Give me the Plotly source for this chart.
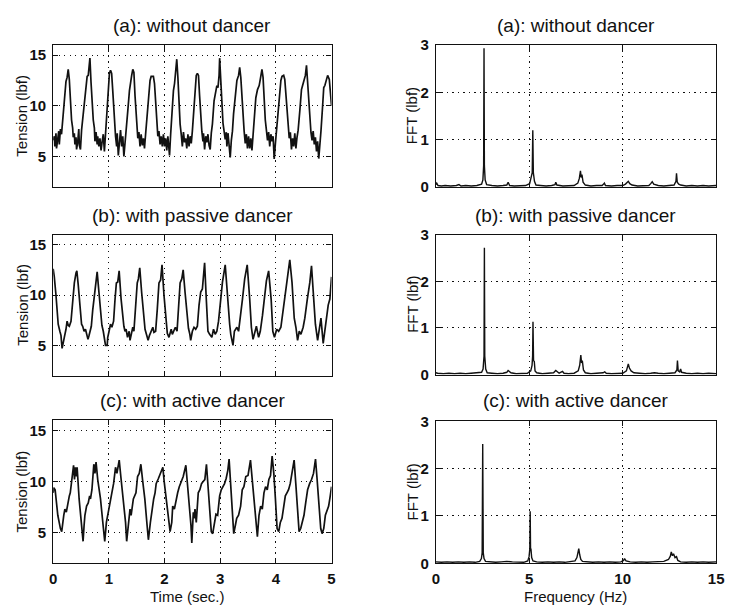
import plotly.graph_objects as go

W, H = 732, 616

panel_titles = ["(a): without dancer", "(b): with passive dancer", "(c): with active dancer"]
time_ticks = [0, 1, 2, 3, 4, 5]
tension_ticks = [5, 10, 15]
freq_ticks = [0, 5, 10, 15]
fft_ticks = [0, 1, 2, 3]

# Tension history (time in s, tension in lbf)
tension_a = [
    (0.00, 6.6), (0.02, 7.0), (0.03, 6.0), (0.05, 7.3), (0.06, 5.8), (0.08, 6.8), (0.10, 7.5), (0.11, 6.2),
    (0.13, 7.7), (0.15, 7.2), (0.17, 8.5), (0.20, 10.5), (0.23, 12.4), (0.25, 12.8), (0.27, 13.6), (0.29, 12.6),
    (0.31, 10.2), (0.33, 8.6), (0.35, 7.8), (0.36, 6.9), (0.38, 7.3), (0.39, 6.2), (0.41, 6.9), (0.42, 5.7),
    (0.44, 6.4), (0.46, 7.7), (0.47, 6.1), (0.49, 5.7), (0.51, 7.6), (0.53, 8.8), (0.56, 10.6), (0.59, 12.2),
    (0.61, 12.9), (0.63, 13.0), (0.66, 14.7), (0.68, 12.3), (0.70, 10.2), (0.72, 8.6), (0.74, 7.8), (0.75, 6.5),
    (0.77, 7.4), (0.79, 6.2), (0.80, 7.0), (0.82, 6.0), (0.84, 6.8), (0.86, 5.6), (0.88, 6.5), (0.90, 7.2),
    (0.92, 5.5), (0.94, 7.5), (0.97, 10.0), (0.99, 12.0), (1.01, 13.2), (1.03, 13.5), (1.05, 13.2), (1.07, 11.5),
    (1.09, 9.5), (1.11, 8.0), (1.12, 7.0), (1.14, 6.0), (1.15, 7.3), (1.17, 5.1), (1.19, 6.5), (1.21, 7.6),
    (1.23, 6.0), (1.25, 7.0), (1.27, 5.0), (1.29, 6.6), (1.31, 7.8), (1.34, 9.5), (1.37, 11.5), (1.39, 12.6),
    (1.41, 13.0), (1.43, 13.6), (1.45, 13.3), (1.47, 11.0), (1.49, 9.0), (1.51, 8.0), (1.52, 6.8), (1.54, 7.4),
    (1.56, 6.0), (1.58, 7.2), (1.60, 6.1), (1.62, 6.8), (1.64, 5.8), (1.66, 7.2), (1.68, 8.5), (1.71, 10.8),
    (1.74, 12.5), (1.76, 12.9), (1.80, 12.9), (1.82, 12.2), (1.84, 10.0), (1.86, 8.3), (1.88, 7.0), (1.90, 7.5),
    (1.92, 6.2), (1.94, 7.0), (1.96, 6.0), (1.98, 7.2), (2.00, 6.0), (2.02, 6.8), (2.04, 5.6), (2.06, 7.0),
    (2.09, 5.1), (2.11, 7.2), (2.13, 9.0), (2.16, 11.5), (2.18, 12.2), (2.20, 13.2), (2.22, 14.6), (2.24, 12.8),
    (2.26, 10.0), (2.28, 8.2), (2.30, 7.2), (2.32, 6.0), (2.34, 7.4), (2.36, 6.4), (2.38, 6.8), (2.40, 5.8),
    (2.42, 7.2), (2.44, 6.0), (2.46, 7.0), (2.48, 6.3), (2.50, 7.5), (2.53, 10.0), (2.55, 12.3), (2.57, 13.0),
    (2.59, 13.2), (2.61, 13.0), (2.63, 11.0), (2.65, 9.0), (2.67, 7.5), (2.69, 6.5), (2.70, 7.3), (2.72, 5.7),
    (2.74, 7.0), (2.76, 6.4), (2.78, 7.2), (2.80, 6.1), (2.82, 5.7), (2.84, 7.3), (2.86, 8.2), (2.89, 10.5),
    (2.92, 11.5), (2.94, 12.0), (2.96, 11.8), (2.98, 13.0), (2.99, 14.7), (3.01, 12.0), (3.03, 9.8), (3.05, 8.3),
    (3.07, 7.5), (3.09, 6.7), (3.11, 7.4), (3.12, 6.0), (3.14, 7.3), (3.16, 6.4), (3.18, 4.9), (3.20, 6.6),
    (3.22, 7.5), (3.24, 9.2), (3.27, 11.0), (3.30, 12.5), (3.33, 13.0), (3.35, 13.8), (3.37, 12.8), (3.39, 10.6),
    (3.41, 8.7), (3.43, 7.5), (3.45, 6.3), (3.47, 7.2), (3.49, 5.8), (3.51, 7.0), (3.53, 5.8), (3.55, 6.8),
    (3.57, 5.6), (3.59, 7.0), (3.61, 8.6), (3.64, 10.8), (3.67, 11.6), (3.70, 12.0), (3.72, 12.6), (3.75, 13.6),
    (3.77, 12.8), (3.79, 10.5), (3.81, 8.6), (3.83, 7.6), (3.85, 6.6), (3.87, 7.4), (3.89, 6.0), (3.91, 7.2),
    (3.93, 6.5), (3.95, 7.0), (3.97, 4.75), (3.99, 6.2), (4.01, 7.5), (4.04, 9.8), (4.07, 11.8), (4.09, 12.5),
    (4.11, 12.9), (4.14, 13.0), (4.16, 12.6), (4.18, 11.2), (4.20, 9.2), (4.22, 7.6), (4.24, 6.8), (4.26, 7.4),
    (4.28, 5.7), (4.30, 6.8), (4.32, 6.0), (4.34, 7.3), (4.36, 5.8), (4.38, 6.9), (4.40, 7.6), (4.43, 9.5),
    (4.46, 11.6), (4.48, 12.0), (4.50, 12.4), (4.53, 13.0), (4.55, 14.0), (4.57, 12.5), (4.59, 10.0), (4.61, 8.5),
    (4.63, 7.4), (4.65, 6.6), (4.67, 7.5), (4.69, 6.2), (4.71, 6.9), (4.73, 5.5), (4.75, 6.5), (4.77, 4.8),
    (4.79, 6.0), (4.81, 7.5), (4.84, 10.0), (4.86, 11.8), (4.88, 12.0), (4.90, 12.5), (4.93, 13.0), (4.96, 12.6),
    (4.98, 11.5), (5.00, 10.0),
]

tension_b = [
    (0.00, 12.6), (0.02, 11.8), (0.05, 10.0), (0.07, 8.2), (0.09, 7.1), (0.12, 6.4), (0.14, 6.0), (0.16, 4.7),
    (0.18, 5.4), (0.20, 5.8), (0.23, 6.6), (0.25, 7.4), (0.27, 7.0), (0.29, 6.9), (0.32, 7.4), (0.35, 9.5),
    (0.38, 11.2), (0.41, 12.2), (0.425, 12.4), (0.45, 11.0), (0.47, 9.5), (0.49, 8.0), (0.51, 7.1), (0.53, 6.9),
    (0.555, 6.4), (0.58, 6.6), (0.60, 6.1), (0.625, 5.6), (0.645, 6.0), (0.66, 6.4), (0.685, 6.9), (0.71, 8.5),
    (0.74, 10.0), (0.77, 11.8), (0.79, 12.3), (0.82, 10.4), (0.85, 8.0), (0.875, 7.0), (0.90, 6.4), (0.92, 5.6),
    (0.94, 5.0), (0.97, 5.0), (0.98, 5.8), (1.00, 6.3), (1.03, 7.1), (1.055, 6.8), (1.085, 7.4), (1.11, 9.5),
    (1.135, 11.2), (1.16, 11.3), (1.185, 12.4), (1.22, 9.6), (1.25, 7.4), (1.27, 6.9), (1.29, 6.4), (1.31, 6.6),
    (1.335, 5.8), (1.365, 6.4), (1.38, 5.5), (1.40, 6.2), (1.43, 6.8), (1.45, 6.4), (1.48, 8.8), (1.51, 11.2),
    (1.53, 11.6), (1.555, 12.7), (1.59, 10.2), (1.63, 7.1), (1.65, 6.6), (1.675, 6.1), (1.705, 5.5), (1.73, 6.0),
    (1.765, 6.4), (1.79, 6.8), (1.81, 6.3), (1.84, 6.4), (1.87, 8.6), (1.90, 11.2), (1.93, 11.5), (1.955, 13.0),
    (1.99, 10.0), (2.03, 6.8), (2.05, 6.2), (2.08, 5.8), (2.10, 6.3), (2.12, 6.6), (2.14, 6.1), (2.16, 6.4),
    (2.195, 6.8), (2.225, 6.4), (2.25, 8.6), (2.28, 11.2), (2.31, 11.6), (2.335, 12.5), (2.37, 10.2), (2.41, 7.4),
    (2.43, 6.7), (2.455, 6.1), (2.47, 5.5), (2.50, 6.4), (2.53, 6.8), (2.56, 6.6), (2.59, 6.9), (2.62, 9.0),
    (2.65, 10.3), (2.68, 10.6), (2.72, 13.2), (2.75, 9.6), (2.78, 6.4), (2.81, 6.1), (2.85, 5.8), (2.88, 6.6),
    (2.91, 6.1), (2.94, 6.4), (2.97, 7.4), (3.01, 9.6), (3.04, 11.25), (3.09, 13.0), (3.13, 9.6), (3.17, 7.1),
    (3.19, 6.1), (3.23, 5.0), (3.255, 6.4), (3.30, 6.8), (3.33, 6.4), (3.355, 7.4), (3.40, 9.6), (3.44, 11.6),
    (3.485, 13.0), (3.53, 9.6), (3.56, 6.8), (3.59, 5.6), (3.62, 6.4), (3.65, 6.9), (3.69, 5.8), (3.72, 6.4),
    (3.76, 8.0), (3.80, 10.0), (3.83, 11.4), (3.87, 12.4), (3.915, 9.6), (3.945, 6.4), (3.975, 5.8), (4.015, 6.6),
    (4.05, 6.4), (4.09, 6.8), (4.12, 8.0), (4.17, 10.3), (4.215, 11.6), (4.25, 13.5), (4.29, 11.25), (4.33, 7.7),
    (4.36, 6.8), (4.39, 5.5), (4.42, 6.4), (4.45, 6.1), (4.49, 6.8), (4.52, 7.7), (4.565, 9.6), (4.61, 11.25),
    (4.64, 12.9), (4.68, 9.6), (4.71, 7.1), (4.75, 5.5), (4.78, 6.8), (4.81, 7.7), (4.85, 5.2), (4.88, 6.4),
    (4.91, 8.0), (4.94, 9.0), (4.97, 9.6), (5.00, 11.8),
]

tension_c = [
    (0.00, 8.9), (0.01, 9.4), (0.035, 9.2), (0.053, 8.3), (0.083, 6.7), (0.13, 5.4), (0.153, 5.1), (0.19, 6.7),
    (0.21, 7.3), (0.236, 7.0), (0.26, 7.9), (0.29, 8.6), (0.307, 8.9), (0.33, 9.8), (0.348, 10.5), (0.366, 11.6),
    (0.383, 10.2), (0.40, 11.4), (0.42, 10.5), (0.43, 11.4), (0.466, 8.3), (0.495, 6.7), (0.513, 6.0), (0.537, 4.15),
    (0.555, 5.7), (0.57, 6.7), (0.60, 7.6), (0.63, 7.9), (0.655, 8.6), (0.67, 8.3), (0.696, 9.2), (0.73, 11.7),
    (0.75, 10.8), (0.77, 11.9), (0.80, 10.2), (0.85, 8.3), (0.897, 5.7), (0.926, 4.15), (0.956, 6.0), (0.985, 7.0),
    (1.015, 7.6), (1.044, 8.6), (1.085, 9.8), (1.12, 11.4), (1.145, 10.8), (1.186, 12.1), (1.215, 10.5), (1.26, 8.3),
    (1.30, 6.0), (1.32, 4.15), (1.35, 6.0), (1.38, 7.3), (1.40, 6.7), (1.44, 8.3), (1.487, 8.9), (1.516, 10.5),
    (1.546, 10.8), (1.575, 11.7), (1.605, 10.2), (1.646, 8.3), (1.687, 5.7), (1.71, 4.3), (1.746, 6.0), (1.77, 7.0),
    (1.805, 8.3), (1.83, 8.9), (1.85, 9.8), (1.89, 10.3), (1.93, 10.8), (1.97, 11.4), (1.994, 10.0), (2.03, 8.3),
    (2.065, 6.7), (2.10, 5.1), (2.13, 6.0), (2.147, 7.6), (2.177, 7.3), (2.206, 8.3), (2.236, 8.9), (2.265, 9.5),
    (2.307, 10.2), (2.336, 10.5), (2.383, 11.6), (2.413, 9.8), (2.454, 7.6), (2.475, 5.7), (2.49, 4.0), (2.50, 5.4),
    (2.517, 7.0), (2.53, 6.4), (2.547, 7.3), (2.57, 6.0), (2.588, 7.3), (2.606, 8.9), (2.635, 9.2), (2.665, 9.8),
    (2.694, 10.0), (2.724, 10.2), (2.753, 11.7), (2.777, 9.8), (2.81, 7.0), (2.84, 5.1), (2.865, 4.9), (2.895, 6.0),
    (2.924, 6.8), (2.954, 6.7), (2.99, 8.6), (3.019, 9.2), (3.048, 9.5), (3.078, 9.8), (3.107, 10.3), (3.137, 11.1),
    (3.16, 12.2), (3.19, 9.8), (3.22, 6.7), (3.243, 4.9), (3.272, 5.7), (3.296, 6.4), (3.33, 6.7), (3.367, 7.6),
    (3.396, 9.2), (3.426, 9.5), (3.46, 10.5), (3.50, 10.6), (3.544, 12.1), (3.58, 9.8), (3.614, 7.3), (3.644, 5.4),
    (3.668, 4.6), (3.697, 6.7), (3.727, 7.6), (3.756, 7.3), (3.786, 8.9), (3.815, 9.5), (3.845, 9.2), (3.874, 10.2),
    (3.904, 10.6), (3.933, 12.5), (3.963, 10.8), (3.992, 8.3), (4.022, 5.4), (4.051, 5.1), (4.08, 6.0), (4.11, 6.4),
    (4.14, 7.3), (4.17, 8.6), (4.199, 8.9), (4.228, 9.2), (4.258, 9.8), (4.293, 10.8), (4.328, 12.1), (4.358, 9.8),
    (4.393, 7.3), (4.417, 5.1), (4.446, 5.4), (4.476, 6.0), (4.505, 6.7), (4.535, 7.9), (4.57, 9.2), (4.606, 9.8),
    (4.641, 10.2), (4.676, 10.8), (4.712, 12.2), (4.741, 10.2), (4.77, 7.6), (4.806, 5.4), (4.83, 4.9), (4.86, 5.4),
    (4.889, 6.7), (4.918, 7.2), (4.948, 7.6), (4.977, 8.6), (5.00, 9.5),
]

# Spectrum magnitude (frequency in Hz, FFT in lbf)
fft_a = [
    (0.0, 0.05), (0.05, 0.08), (0.12, 0.03), (0.3, 0.02), (0.5, 0.03), (0.8, 0.02), (1.1, 0.03), (1.24, 0.05),
    (1.35, 0.02), (1.6, 0.03), (1.9, 0.02), (2.2, 0.03), (2.45, 0.06), (2.52, 0.15), (2.56, 0.45), (2.58, 2.93),
    (2.60, 0.45), (2.64, 0.15), (2.72, 0.05), (3.0, 0.03), (3.3, 0.02), (3.6, 0.03), (3.8, 0.04), (3.87, 0.1),
    (3.95, 0.03), (4.2, 0.02), (4.5, 0.03), (4.8, 0.03), (5.02, 0.07), (5.1, 0.18), (5.16, 0.3), (5.19, 1.2),
    (5.22, 0.3), (5.28, 0.12), (5.36, 0.04), (5.6, 0.03), (5.9, 0.02), (6.2, 0.03), (6.38, 0.05), (6.42, 0.1),
    (6.48, 0.04), (6.8, 0.02), (7.1, 0.03), (7.4, 0.03), (7.6, 0.08), (7.68, 0.18), (7.74, 0.34), (7.78, 0.2),
    (7.82, 0.26), (7.88, 0.1), (8.0, 0.04), (8.3, 0.02), (8.6, 0.03), (8.9, 0.03), (8.98, 0.06), (9.02, 0.08),
    (9.08, 0.03), (9.4, 0.02), (9.7, 0.03), (10.0, 0.03), (10.15, 0.06), (10.25, 0.11), (10.3, 0.12), (10.38, 0.07),
    (10.5, 0.04), (10.8, 0.02), (11.1, 0.03), (11.4, 0.03), (11.5, 0.07), (11.58, 0.11), (11.66, 0.06), (11.9, 0.03),
    (12.2, 0.02), (12.5, 0.03), (12.75, 0.04), (12.85, 0.12), (12.88, 0.29), (12.92, 0.1), (13.0, 0.06), (13.1, 0.04),
    (13.4, 0.02), (13.7, 0.03), (14.0, 0.02), (14.3, 0.03), (14.6, 0.02), (15.0, 0.03),
]

fft_b = [
    (0.0, 0.04), (0.1, 0.03), (0.4, 0.02), (0.7, 0.03), (1.0, 0.02), (1.3, 0.03), (1.6, 0.02), (1.9, 0.03),
    (2.2, 0.03), (2.45, 0.05), (2.53, 0.12), (2.58, 0.4), (2.60, 2.72), (2.62, 0.4), (2.67, 0.12), (2.75, 0.04),
    (3.0, 0.03), (3.3, 0.02), (3.6, 0.03), (3.8, 0.05), (3.87, 0.09), (3.95, 0.06), (4.02, 0.04), (4.3, 0.02),
    (4.6, 0.03), (4.9, 0.03), (5.08, 0.08), (5.15, 0.2), (5.18, 0.4), (5.20, 1.13), (5.23, 0.3), (5.27, 0.28),
    (5.31, 0.08), (5.4, 0.04), (5.7, 0.02), (6.0, 0.03), (6.3, 0.04), (6.42, 0.09), (6.5, 0.06), (6.6, 0.03),
    (6.78, 0.07), (6.86, 0.03), (7.1, 0.02), (7.4, 0.03), (7.62, 0.08), (7.70, 0.2), (7.76, 0.42), (7.80, 0.25),
    (7.84, 0.3), (7.9, 0.1), (8.0, 0.04), (8.3, 0.02), (8.6, 0.03), (8.95, 0.04), (9.04, 0.06), (9.12, 0.03),
    (9.4, 0.02), (9.7, 0.03), (10.0, 0.03), (10.2, 0.08), (10.3, 0.23), (10.36, 0.14), (10.45, 0.08), (10.6, 0.04),
    (10.9, 0.03), (11.2, 0.02), (11.5, 0.03), (11.7, 0.04), (11.9, 0.03), (12.2, 0.02), (12.5, 0.03), (12.8, 0.04),
    (12.9, 0.1), (12.93, 0.3), (12.97, 0.08), (13.05, 0.06), (13.1, 0.12), (13.15, 0.05), (13.4, 0.03), (13.7, 0.02),
    (14.0, 0.03), (14.3, 0.02), (14.6, 0.03), (15.0, 0.02),
]

fft_c = [
    (0.0, 0.03), (0.3, 0.02), (0.6, 0.03), (0.9, 0.02), (1.2, 0.03), (1.5, 0.02), (1.8, 0.03), (2.1, 0.02),
    (2.35, 0.04), (2.44, 0.1), (2.48, 0.22), (2.51, 2.52), (2.54, 0.22), (2.58, 0.1), (2.66, 0.04), (2.9, 0.03),
    (3.2, 0.02), (3.5, 0.03), (3.8, 0.04), (4.1, 0.03), (4.4, 0.03), (4.7, 0.02), (4.92, 0.05), (4.99, 0.14),
    (5.03, 0.3), (5.05, 1.1), (5.07, 0.3), (5.09, 0.31), (5.13, 0.12), (5.2, 0.05), (5.4, 0.03), (5.7, 0.02),
    (6.0, 0.03), (6.3, 0.02), (6.6, 0.03), (6.9, 0.02), (7.2, 0.03), (7.45, 0.05), (7.55, 0.12), (7.6, 0.2),
    (7.65, 0.31), (7.7, 0.18), (7.76, 0.08), (7.85, 0.04), (8.1, 0.03), (8.4, 0.02), (8.7, 0.03), (9.0, 0.02),
    (9.3, 0.03), (9.6, 0.02), (9.9, 0.03), (10.05, 0.06), (10.1, 0.1), (10.18, 0.05), (10.4, 0.03), (10.7, 0.02),
    (11.0, 0.03), (11.3, 0.02), (11.6, 0.03), (11.9, 0.03), (12.2, 0.04), (12.45, 0.08), (12.55, 0.15), (12.6, 0.24),
    (12.66, 0.16), (12.72, 0.2), (12.8, 0.12), (12.88, 0.14), (12.95, 0.06), (13.1, 0.03), (13.4, 0.02), (13.7, 0.03),
    (14.0, 0.02), (14.3, 0.03), (14.6, 0.02), (15.0, 0.03),
]

FONT = "Liberation Sans, Arial, Helvetica, sans-serif"
INK = "#111111"

# panel boxes in pixels: (left, right, top, bottom)
left_boxes = [(50, 333, 37, 183), (50, 333, 232, 377), (50, 333, 423, 570)]
right_boxes = [(439, 724, 37, 183), (439, 724, 232, 376), (439, 724, 424, 570)]


def xdom(b):
    return [b[0] / W, b[1] / W]


def ydom(b):
    return [1 - b[3] / H, 1 - b[2] / H]


def split(pairs):
    return [p[0] for p in pairs], [p[1] for p in pairs]


fig = go.Figure()

grid = dict(showgrid=True, gridcolor=INK, gridwidth=1.1, griddash="1.3px,4.2px",
            showline=True, linecolor=INK, linewidth=1.1, mirror="ticks",
            ticks="inside", ticklen=5, tickwidth=1, tickcolor=INK,
            zeroline=False, tickfont=dict(family=FONT, size=15, color=INK, weight="bold"))

series_left = [tension_a, tension_b, tension_c]
series_right = [fft_a, fft_b, fft_c]

layout = dict(width=W, height=H, margin=dict(l=0, r=0, t=0, b=0),
              paper_bgcolor="white", plot_bgcolor="white", showlegend=False)

annotations = []
for i in range(3):
    nl, nr = 2 * i + 1, 2 * i + 2
    sl = "" if nl == 1 else str(nl)
    sr = str(nr)

    t, v = split(series_left[i])
    fig.add_trace(go.Scatter(x=t, y=v, mode="lines", line=dict(color=INK, width=1.7),
                             xaxis="x" + sl, yaxis="y" + sl))
    f, a = split(series_right[i])
    fig.add_trace(go.Scatter(x=f, y=a, mode="lines", line=dict(color=INK, width=1.4),
                             xaxis="x" + sr, yaxis="y" + sr))

    bl, br = left_boxes[i], right_boxes[i]
    last = i == 2
    layout["xaxis" + sl] = dict(grid, domain=xdom(bl), anchor="y" + sl, range=[0, 5],
                                tickvals=time_ticks, showticklabels=last, ticklabelstandoff=2)
    layout["yaxis" + sl] = dict(grid, domain=ydom(bl), anchor="x" + sl, range=[2, 16],
                                tickvals=tension_ticks, ticklabelstandoff=3)
    layout["xaxis" + sr] = dict(grid, domain=xdom(br), anchor="y" + sr, range=[0, 15],
                                tickvals=freq_ticks, showticklabels=last, ticklabelstandoff=2)
    layout["yaxis" + sr] = dict(grid, domain=ydom(br), anchor="x" + sr, range=[0, 3],
                                tickvals=fft_ticks, ticklabelstandoff=3)

    # panel titles
    ty = 1 - (bl[2] - 20) / H
    for b in (bl, br):
        annotations.append(dict(text=panel_titles[i], xref="paper", yref="paper",
                                x=(b[0] + b[1]) / 2 / W, y=ty, xanchor="center", yanchor="middle",
                                showarrow=False, font=dict(family=FONT, size=19, color=INK)))
    # y-axis titles
    annotations.append(dict(text="Tension (lbf)", xref="paper", yref="paper",
                            x=18 / W, y=1 - (bl[2] + bl[3]) / 2 / H, textangle=-90,
                            xanchor="center", yanchor="middle", showarrow=False,
                            font=dict(family=FONT, size=15, color=INK)))
    annotations.append(dict(text="FFT (lbf)", xref="paper", yref="paper",
                            x=415 / W, y=1 - (br[2] + br[3]) / 2 / H, textangle=-90,
                            xanchor="center", yanchor="middle", showarrow=False,
                            font=dict(family=FONT, size=15, color=INK)))

annotations.append(dict(text="Time (sec.)", xref="paper", yref="paper",
                        x=186 / W, y=1 - 604 / H, xanchor="center", yanchor="middle",
                        showarrow=False, font=dict(family=FONT, size=15, color=INK)))
annotations.append(dict(text="Frequency (Hz)", xref="paper", yref="paper",
                        x=581 / W, y=1 - 604 / H, xanchor="center", yanchor="middle",
                        showarrow=False, font=dict(family=FONT, size=15, color=INK)))

layout["annotations"] = annotations
fig.update_layout(**layout)
fig.write_html("out.html")
